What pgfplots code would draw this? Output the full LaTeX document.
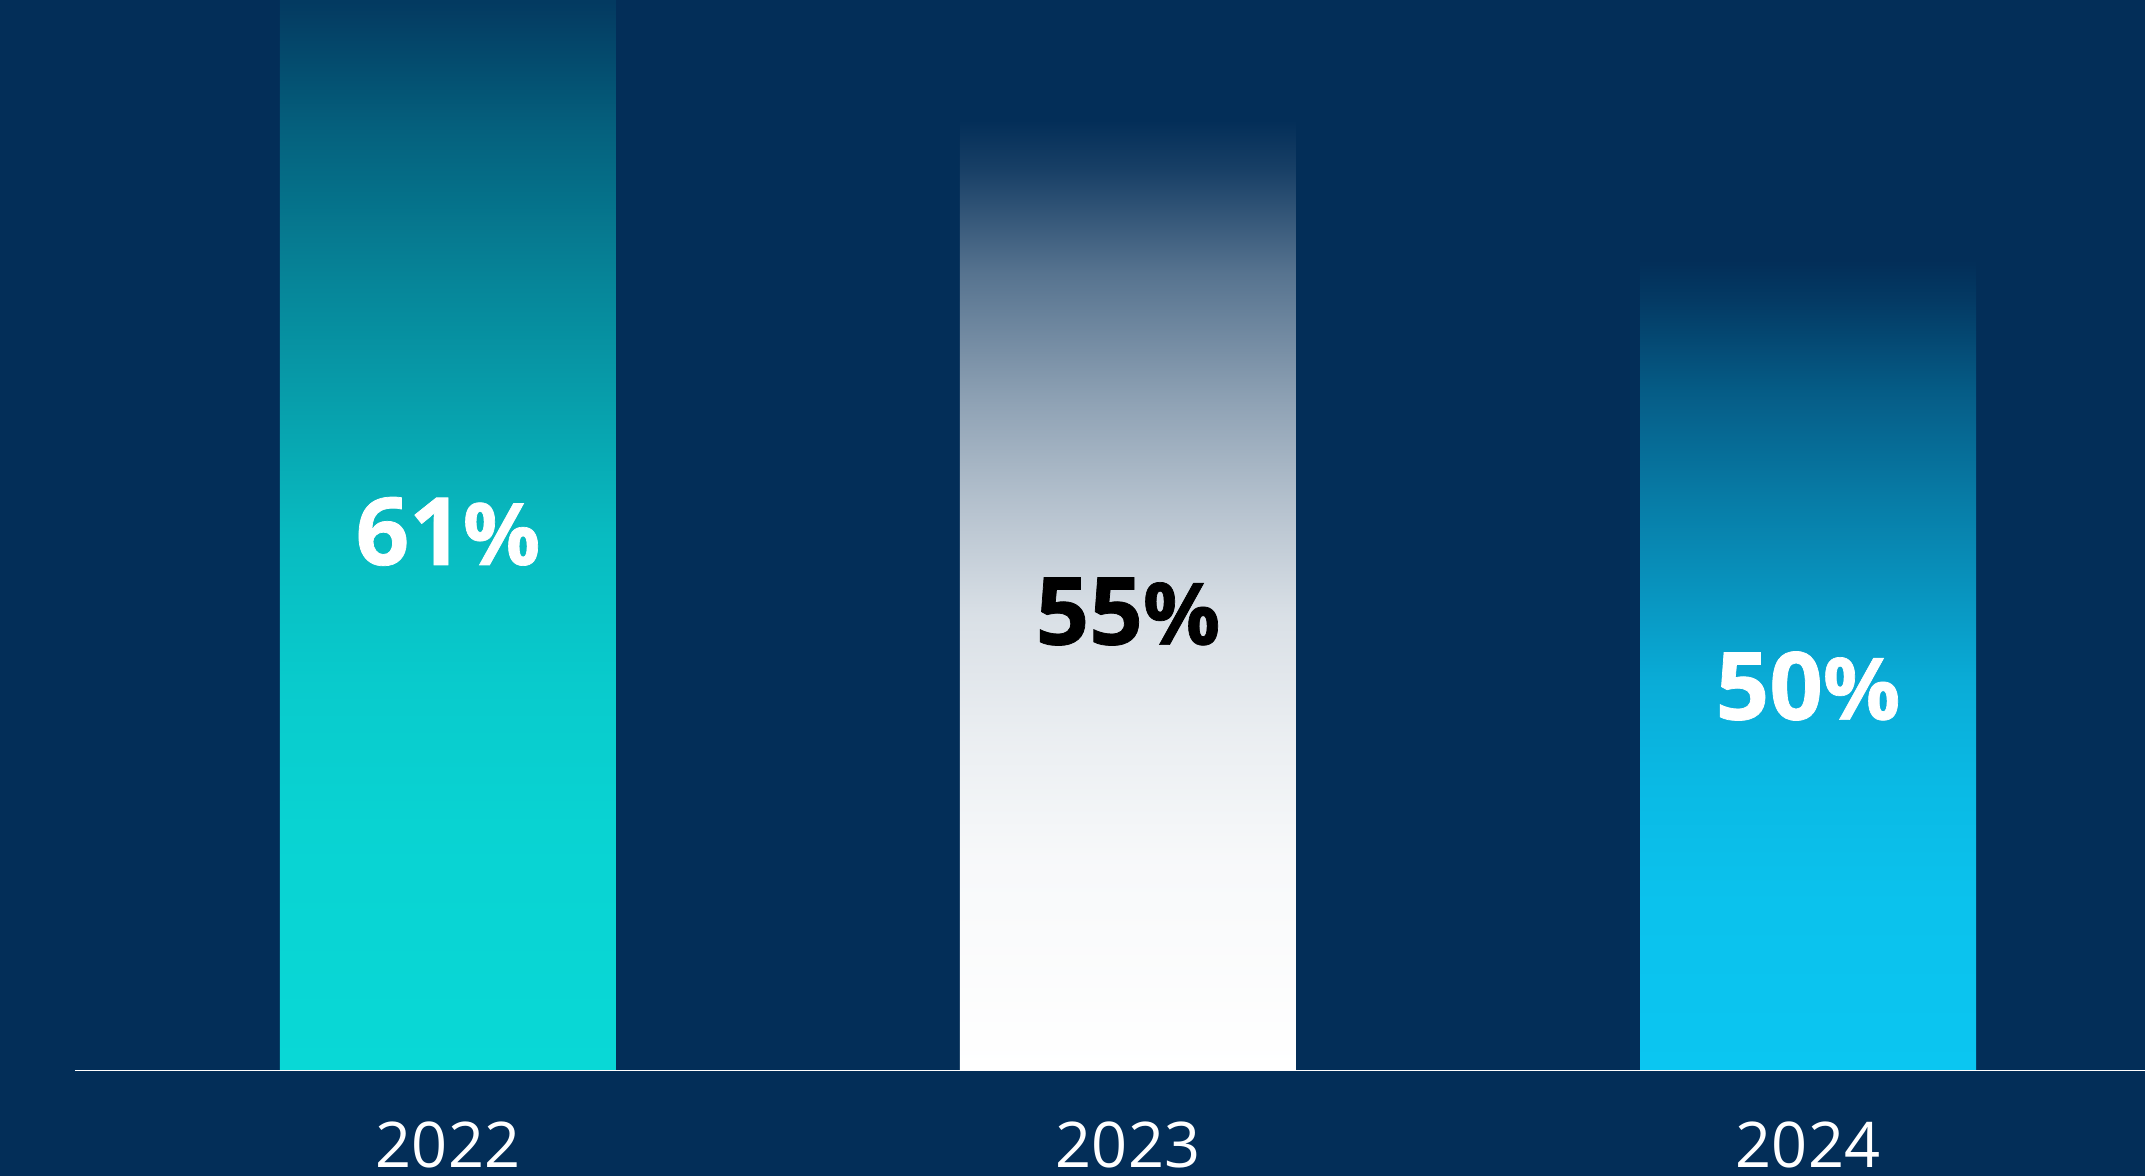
\documentclass[border=0pt]{standalone}
\usepackage{pgfplots}
\pgfplotsset{compat=1.18}
\usepackage{fontspec}
\setmainfont{Open Sans}
\newfontfamily\heavy{Open Sans}[BoldFeatures={FakeBold=0.8}]
\definecolor{bg}{RGB}{3,46,88}
\definecolor{c22}{RGB}{9,216,214}
\definecolor{c23}{RGB}{255,255,255}
\definecolor{c24}{RGB}{11,198,241}
\pgfdeclareverticalshading{s22}{100bp}{color(0bp)=(c22); color(25bp)=(c22); color(36bp)=(c22!97!bg); color(42.5bp)=(c22!92!bg); color(49bp)=(c22!83!bg); color(55bp)=(c22!66!bg); color(60bp)=(c22!52!bg); color(67bp)=(c22!30!bg); color(72.5bp)=(c22!8!bg); color(75bp)=(bg); color(100bp)=(bg)}
\pgfdeclareverticalshading{s23}{100bp}{color(0bp)=(c23); color(25bp)=(c23); color(36bp)=(c23!97!bg); color(42.5bp)=(c23!92!bg); color(49bp)=(c23!85!bg); color(55bp)=(c23!70!bg); color(60bp)=(c23!56!bg); color(67bp)=(c23!33!bg); color(72.5bp)=(c23!8!bg); color(75bp)=(bg); color(100bp)=(bg)}
\pgfdeclareverticalshading{s24}{100bp}{color(0bp)=(c24); color(25bp)=(c24); color(36bp)=(c24!97!bg); color(42.5bp)=(c24!92!bg); color(49bp)=(c24!83!bg); color(55bp)=(c24!66!bg); color(60bp)=(c24!52!bg); color(67bp)=(c24!30!bg); color(72.5bp)=(c24!8!bg); color(75bp)=(bg); color(100bp)=(bg)}
\begin{document}
\begin{tikzpicture}
\fill[bg] (0,0) rectangle (536.25pt,294pt);
\begin{axis}[
  at={(18.75pt,26.25pt)}, anchor=south west,
  scale only axis, width=517.5pt, height=267.75pt,
  xmin=-0.5485, xmax=2.4956,
  y coord trafo/.code={\pgfmathparse{#1-21.04}},
  y coord inv trafo/.code={\pgfmathparse{#1+21.04}},
  ymin=21.04, ymax=59.29,
  axis line style={draw=none},
  xtick={0,1,2}, xticklabels={2022,2023,2024},
  ytick=\empty,
  major tick length=0pt,
  xticklabel style={anchor=center, inner sep=0pt, yshift=-18.4pt, text=white, font=\fontsize{15.75}{16}\selectfont},
  clip=true,
]
\addplot[ybar, bar width=84pt, bar shift=0pt, draw=none, shade, shading=s22] coordinates {(0,61)};
\addplot[ybar, bar width=84pt, bar shift=0pt, draw=none, shade, shading=s23] coordinates {(1,55)};
\addplot[ybar, bar width=84pt, bar shift=0pt, draw=none, shade, shading=s24] coordinates {(2,50)};
\draw[white, line width=0.5pt] (rel axis cs:0,0) -- (rel axis cs:1,0);
\node[text=white, font=\heavy\bfseries\fontsize{23.5}{24}\selectfont, inner sep=0pt] at (axis cs:0,40.31) {61{\fontsize{21.5}{22}\selectfont\%}};
\node[text=black, font=\heavy\bfseries\fontsize{23.5}{24}\selectfont, inner sep=0pt] at (axis cs:1,37.45) {55{\fontsize{21.5}{22}\selectfont\%}};
\node[text=white, font=\heavy\bfseries\fontsize{23.5}{24}\selectfont, inner sep=0pt] at (axis cs:2,34.79) {50{\fontsize{21.5}{22}\selectfont\%}};
\end{axis}
\pgfresetboundingbox
\useasboundingbox (0,0) rectangle (536.25pt,294pt);
\end{tikzpicture}
\end{document}
